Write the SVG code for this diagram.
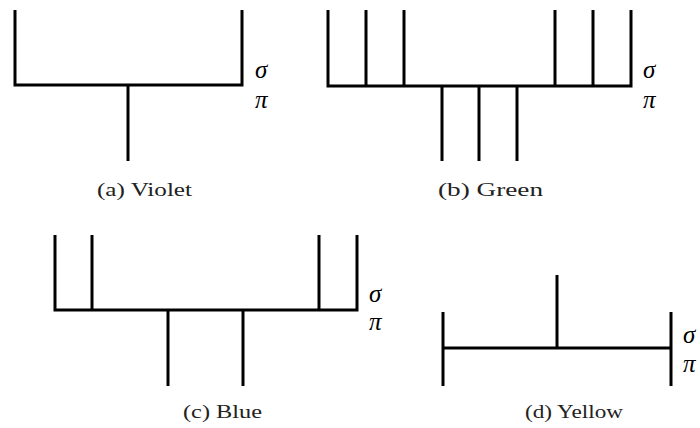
<svg xmlns="http://www.w3.org/2000/svg" width="700" height="428" viewBox="0 0 700 428">
<style>
.ln{fill:none;stroke:#000;stroke-width:3;stroke-linecap:butt;stroke-linejoin:miter}
.sym{font-family:'Liberation Serif','Times New Roman',serif;font-style:italic;font-size:25px;fill:#000}
.cap{font-family:'Liberation Serif','Times New Roman',serif;font-size:19px;fill:#222}
</style>
<rect width="700" height="428" fill="#fff"/>
<g id="violet">
<path class="ln" d="M15,10 V85 H242 V10 M128,85 V161"/>
<text class="sym" x="255" y="78">σ</text>
<text class="sym" x="255" y="108">π</text>
<text class="cap" x="97" y="196" textLength="95" lengthAdjust="spacingAndGlyphs">(a) Violet</text>
</g>
<g id="green">
<path class="ln" d="M328,10 V86 H631 V10 M366,10 V86 M404,10 V86 M555,10 V86 M593,10 V86 M442,86 V161 M479,86 V161 M517,86 V161"/>
<text class="sym" x="643" y="78">σ</text>
<text class="sym" x="643" y="108">π</text>
<text class="cap" x="438" y="196" textLength="105" lengthAdjust="spacingAndGlyphs">(b) Green</text>
</g>
<g id="blue">
<path class="ln" d="M55,235 V310 H357 V235 M92,235 V310 M319,235 V310 M168,310 V386 M243,310 V386"/>
<text class="sym" x="369" y="302">σ</text>
<text class="sym" x="369" y="330">π</text>
<text class="cap" x="183" y="418" textLength="79" lengthAdjust="spacingAndGlyphs">(c) Blue</text>
</g>
<g id="yellow">
<path class="ln" d="M443,312 V386 M443,348 H671 M671,312 V386 M557,275 V348"/>
<text class="sym" x="683" y="343">σ</text>
<text class="sym" x="683" y="372">π</text>
<text class="cap" x="525" y="418" textLength="98" lengthAdjust="spacingAndGlyphs">(d) Yellow</text>
</g>
<g id="connectors"></g>
</svg>
